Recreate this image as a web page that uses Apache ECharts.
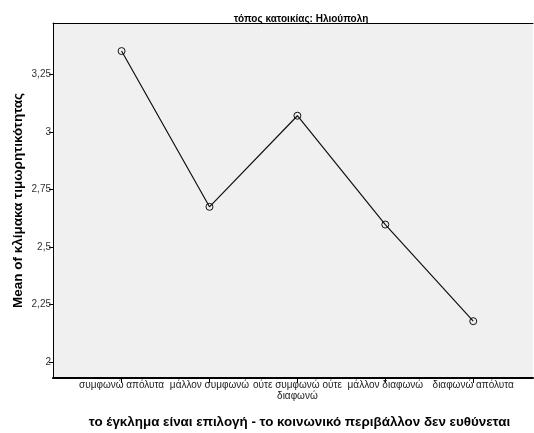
<!DOCTYPE html>
<html><head><meta charset="utf-8">
<script src="https://cdn.jsdelivr.net/npm/echarts@6/dist/echarts.min.js"></script>
<style>html,body{margin:0;padding:0;background:#fff}#c{width:534px;height:433px}</style>
</head><body><div id="c"></div>
<script>
const categories = ["συμφωνώ απόλυτα", "μάλλον συμφωνώ", "ούτε συμφωνώ ούτε\nδιαφωνώ", "μάλλον διαφωνώ", "διαφωνώ απόλυτα"];
const meanValues = [3.351, 2.674, 3.07, 2.597, 2.177];
const yTicks = [2, 2.25, 2.5, 2.75, 3, 3.25];
const titleText = "τόπος κατοικίας: Ηλιούπολη";
const xTitle = "το έγκλημα είναι επιλογή - το κοινωνικό περιβάλλον δεν ευθύνεται";
const yTitle = "Mean of κλίμακα τιμωρητικότητας";

const chart = echarts.init(document.getElementById('c'), null, {renderer: 'canvas'});
const FONT = 'Liberation Sans, Arial, sans-serif';
chart.setOption({
  animation: false,
  title: {text: titleText, left: 296, top: 9, textAlign: 'center',
    textStyle: {fontFamily: FONT, fontSize: 10, fontWeight: 'bold', color: '#000'}},
  grid: {left: 53, top: 23, right: 1, bottom: 55, show: true, backgroundColor: '#f0f0f0', borderWidth: 0,
    containLabel: false, outerBoundsMode: 'none'},
  xAxis: [{
    type: 'value', min: -0.78, max: 4.68,
    splitLine: {show: false},
    axisLine: {show: true, onZero: false, lineStyle: {color: '#000', width: 2}},
    axisTick: {show: true, customValues: [0,1,2,3,4], length: 5, lineStyle: {color: '#000'}},
    axisLabel: {customValues: [0,1,2,3,4], formatter: v => categories[Math.round(v)],
      fontFamily: FONT, fontSize: 10, color: '#222', margin: 2, lineHeight: 11},
    name: xTitle, nameLocation: 'middle', nameGap: 38, nameMoveOverlap: false,
    nameTextStyle: {fontFamily: FONT, fontSize: 13.4, fontWeight: 'bold', color: '#000', padding: [0, 0, 0, 13]}
  }, {
    type: 'value', position: 'top', min: -0.78, max: 4.68,
    splitLine: {show: false}, axisTick: {show: false}, axisLabel: {show: false},
    axisLine: {show: true, lineStyle: {color: '#000', width: 1}}
  }],
  yAxis: {
    type: 'value', min: 1.93, max: 3.473,
    splitLine: {show: false},
    axisLine: {show: true, onZero: false, lineStyle: {color: '#000', width: 1}},
    axisTick: {show: true, customValues: yTicks, length: 4, lineStyle: {color: '#000'}},
    axisLabel: {customValues: yTicks, formatter: v => String(v).replace('.', ','),
      fontFamily: FONT, fontSize: 10, color: '#333', margin: 2},
    name: yTitle, nameLocation: 'middle', nameGap: 28, nameRotate: 90, nameMoveOverlap: false,
    nameTextStyle: {fontFamily: FONT, fontSize: 13.5, fontWeight: 'bold', color: '#000'}
  },
  series: [{
    type: 'line',
    data: meanValues.map((v, i) => [i, v]),
    symbol: 'circle', symbolSize: 7,
    lineStyle: {color: '#111', width: 1.2},
    itemStyle: {color: 'rgba(0,0,0,0)', borderColor: '#111', borderWidth: 1}
  }]
});
</script></body></html>
